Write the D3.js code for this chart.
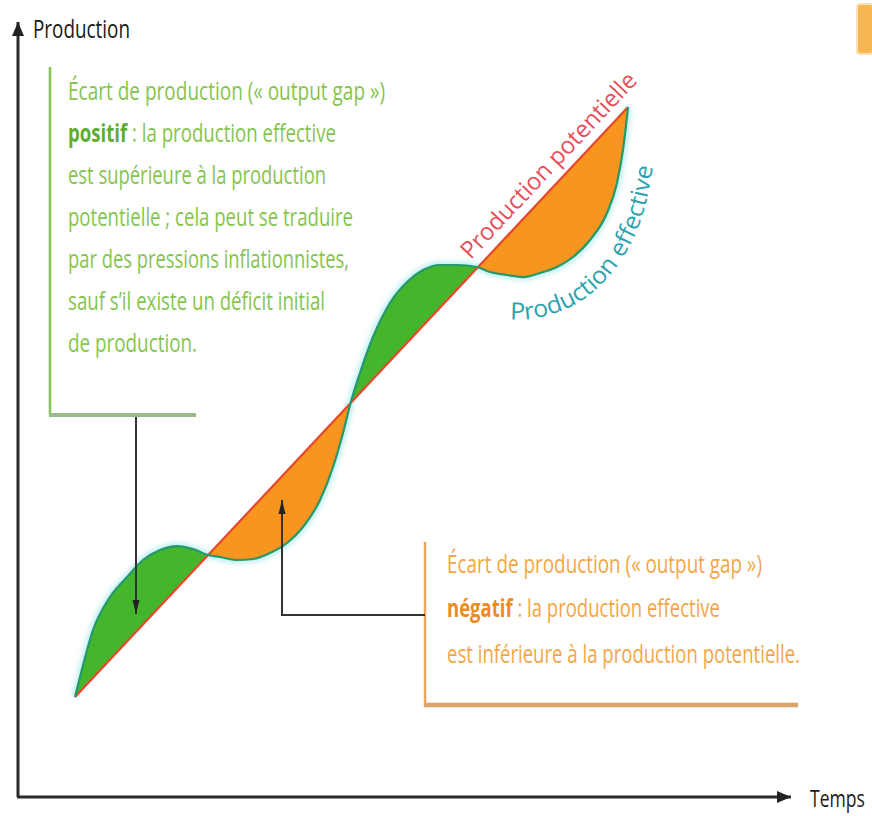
<!DOCTYPE html>
<html><head><meta charset="utf-8">
<script src="https://cdn.jsdelivr.net/npm/d3@7"></script>
<style>body{margin:0;background:#fff}svg{display:block}</style>
</head><body>
<script>
// ---- data (time units / production units) ----
const timePot = [7.32, 78.31];
const prodPot = [12.87, 88.80];
const timeEff = [7.32,7.96,9.63,11.81,13.99,16.05,18.23,20.41,22.46,24.39,25.93,28.11,30.17,32.35,34.53,36.59,38.77,40.44,41.72,42.62,43.90,45.57,47.75,49.94,51.99,54.17,56.35,58.92,60.59,62.77,64.83,67.01,69.19,71.25,73.43,75.61,76.89,77.66,78.31];
const prodEff = [12.87,15.44,21.49,25.74,28.31,30.50,31.79,32.30,31.92,31.15,30.89,30.50,30.63,31.40,32.69,34.75,38.22,42.47,46.85,50.45,54.57,59.20,63.58,66.28,67.82,68.47,68.47,68.21,67.57,67.18,66.92,67.44,68.21,69.50,71.69,75.16,79.02,83.27,88.80];
const axisLabels = ["Production","Temps"];
const curveLabels = ["Production potentielle","Production effective"];
const posLines = [["Écart de production (« output gap »)",""],["positif"," : la production effective"],["est supérieure à la production",""],["potentielle ; cela peut se traduire",""],["par des pressions inflationnistes,",""],["sauf s’il existe un déficit initial",""],["de production.",""]];
const posWidths = [317,268,258,285,281,257,129];
const negLines = [["Écart de production (« output gap »)",""],["négatif"," : la production effective"],["est inférieure à la production potentielle.",""]];
const negWidths = [315,273,353];

const W=872,H=816;
const FONT="'Liberation Sans Narrow','Open Sans',sans-serif";
const svg=d3.select("body").append("svg").attr("width",W).attr("height",H);
const defs=svg.append("defs");
const x=d3.scaleLinear([0,100],[18,797]);
const y=d3.scaleLinear([0,100],[797,20]);
const pot=d3.scaleLinear(timePot,prodPot);
const eff=timeEff.map((t,i)=>({t,v:prodEff[i]}));

// markers
defs.append("marker").attr("id","axArrow").attr("viewBox","-14 -6 14 12").attr("refX",0).attr("refY",0)
 .attr("markerWidth",14).attr("markerHeight",12).attr("markerUnits","userSpaceOnUse").attr("orient","auto")
 .append("path").attr("d","M0,0L-14,-6L-14,6Z").attr("fill","#222");
defs.append("marker").attr("id","ptArrow").attr("viewBox","-14 -4 14 8").attr("refX",0).attr("refY",0)
 .attr("markerWidth",14).attr("markerHeight",8).attr("markerUnits","userSpaceOnUse").attr("orient","auto")
 .append("path").attr("d","M0,0L-14,-3.5L-14,3.5Z").attr("fill","#222");
const blur=defs.append("filter").attr("id","glow").attr("x","-10%").attr("y","-10%").attr("width","120%").attr("height","120%");
blur.append("feGaussianBlur").attr("stdDeviation",2.5);

// corner icon
svg.append("rect").attr("x",857).attr("y",4).attr("width",16).attr("height",50).attr("rx",3)
 .attr("fill","#f6b040").attr("stroke","#fbe0b0").attr("stroke-width",2).attr("opacity",0.9);

// axes
const [x0,x1]=x.range(), [y0,y1]=y.range();
svg.append("line").attr("x1",x0).attr("y1",y0).attr("x2",x0).attr("y2",y1+2)
 .attr("stroke","#2a2a2a").attr("stroke-width",3).attr("marker-end","url(#axArrow)");
svg.append("line").attr("x1",x0-1).attr("y1",y0).attr("x2",x1-6).attr("y2",y0)
 .attr("stroke","#2a2a2a").attr("stroke-width",3).attr("marker-end","url(#axArrow)");
svg.append("text").attr("x",33).attr("y",38).attr("font-family",FONT).attr("font-size",25)
 .attr("textLength",97).attr("lengthAdjust","spacingAndGlyphs").attr("fill","#1a1a1a").text(axisLabels[0]);
svg.append("text").attr("x",810).attr("y",807).attr("font-family",FONT).attr("font-size",24)
 .attr("textLength",55).attr("lengthAdjust","spacingAndGlyphs").attr("fill","#1a1a1a").text(axisLabels[1]);

// fills
const pA=[x(timePot[0]),y(prodPot[0])], pB=[x(timePot[1]),y(prodPot[1])];
defs.append("clipPath").attr("id","above").append("polygon")
 .attr("points",[pA,pB,[pB[0]+40,pB[1]],[pB[0]+40,0],[pA[0]-5,0],[pA[0]-5,pA[1]]].map(p=>p.join(",")).join(" "));
defs.append("clipPath").attr("id","below").append("polygon")
 .attr("points",[pA,pB,[pB[0]+40,pB[1]],[pB[0]+40,H],[pA[0]-5,H],[pA[0]-5,pA[1]]].map(p=>p.join(",")).join(" "));
const area=d3.area().x(d=>x(d.t)).y0(d=>y(pot(d.t))).y1(d=>y(d.v)).curve(d3.curveMonotoneX);
const lineEff=d3.line().x(d=>x(d.t)).y(d=>y(d.v)).curve(d3.curveMonotoneX);

svg.append("path").attr("d",lineEff(eff)).attr("fill","none").attr("stroke","#bdeef0").attr("stroke-width",7).attr("filter","url(#glow)");
svg.append("path").attr("d",area(eff)).attr("fill","#45b52c").attr("clip-path","url(#above)");
svg.append("path").attr("d",area(eff)).attr("fill","#f7951e").attr("clip-path","url(#below)");
svg.append("line").attr("x1",pA[0]).attr("y1",pA[1]).attr("x2",pB[0]).attr("y2",pB[1])
 .attr("stroke","#e9472c").attr("stroke-width",2.2);
svg.append("path").attr("d",lineEff(eff)).attr("fill","none").attr("stroke","#229a6c").attr("stroke-width",2.2);

// label on potential line
const ang=Math.atan2(pB[1]-pA[1],pB[0]-pA[0])*180/Math.PI;
const tLab=69.8;
svg.append("text").attr("transform",`translate(${x(tLab)},${y(pot(tLab))}) rotate(${ang})`)
 .attr("dy",-10).attr("text-anchor","middle").attr("font-family",FONT).attr("font-size",24)
 .attr("textLength",245).attr("lengthAdjust","spacingAndGlyphs").attr("fill","#e5505a").text(curveLabels[0]);

// label along effective curve (offset path derived from data)
const pts=eff.filter(d=>d.t>=60).map(d=>[x(d.t),y(d.v)]);
const offPts=pts.map((p,i)=>{
  const a=pts[Math.max(0,i-1)], b=pts[Math.min(pts.length-1,i+1)];
  const dx=b[0]-a[0], dy=b[1]-a[1], L=Math.hypot(dx,dy);
  const off=30+14*Math.abs(dx/L);
  return [p[0]-dy/L*off, p[1]+dx/L*off];
});
defs.append("path").attr("id","effPath").attr("d",d3.line().curve(d3.curveBasis)(offPts));
svg.append("text").attr("font-family",FONT).attr("font-size",24).attr("fill","#2aa3ad")
 .append("textPath").attr("href","#effPath").attr("startOffset",28)
 .attr("textLength",232).attr("lengthAdjust","spacingAndGlyphs").text(curveLabels[1]);

// positive annotation box
svg.append("line").attr("x1",50).attr("y1",67).attr("x2",50).attr("y2",416).attr("stroke","#84c455").attr("stroke-width",2.5);
svg.append("line").attr("x1",49).attr("y1",415).attr("x2",196).attr("y2",415).attr("stroke","#98bb88").attr("stroke-width",4);
posLines.forEach((l,i)=>{
  const tx=svg.append("text").attr("x",68).attr("y",100+42*i).attr("font-family",FONT).attr("font-size",25)
   .attr("fill","#85c450").attr("textLength",posWidths[i]).attr("lengthAdjust","spacingAndGlyphs");
  if(l[1]){tx.append("tspan").attr("font-weight","bold").attr("fill","#5cad30").text(l[0]);tx.append("tspan").text(l[1]);}
  else tx.text(l[0]);
});
svg.append("line").attr("x1",136).attr("y1",417).attr("x2",136).attr("y2",614)
 .attr("stroke","#333").attr("stroke-width",2).attr("marker-end","url(#ptArrow)");

// negative annotation box
svg.append("line").attr("x1",425).attr("y1",542).attr("x2",425).attr("y2",706).attr("stroke","#eea45a").attr("stroke-width",2.5);
svg.append("line").attr("x1",424).attr("y1",705).attr("x2",798).attr("y2",705).attr("stroke","#d9a468").attr("stroke-width",4.5);
negLines.forEach((l,i)=>{
  const tx=svg.append("text").attr("x",447).attr("y",[573,617,663][i]).attr("font-family",FONT).attr("font-size",25)
   .attr("fill","#f4a646").attr("textLength",negWidths[i]).attr("lengthAdjust","spacingAndGlyphs");
  if(l[1]){tx.append("tspan").attr("font-weight","bold").attr("fill","#e98c22").text(l[0]);tx.append("tspan").text(l[1]);}
  else tx.text(l[0]);
});
svg.append("path").attr("d","M425,615H282V500").attr("fill","none")
 .attr("stroke","#333").attr("stroke-width",2).attr("marker-end","url(#ptArrow)");
</script>
</body></html>
